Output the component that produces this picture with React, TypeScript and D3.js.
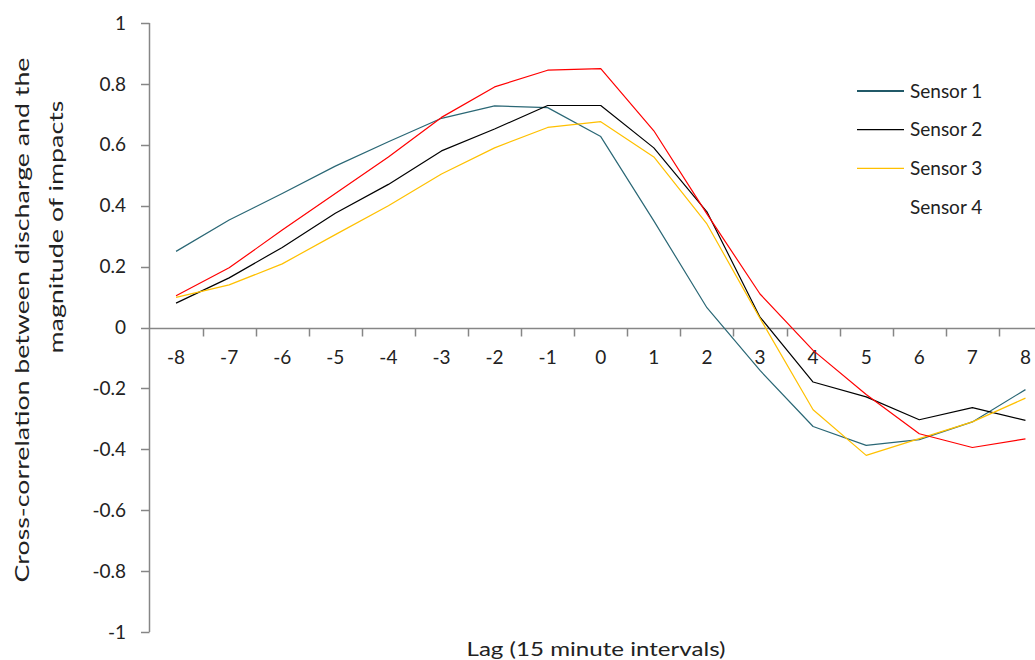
import React from "react";
import * as d3 from "d3";

const lags = [-8, -7, -6, -5, -4, -3, -2, -1, 0, 1, 2, 3, 4, 5, 6, 7, 8];
const sensor1 = [0.25, 0.353, 0.44, 0.53, 0.61, 0.687, 0.728, 0.722, 0.627, 0.35, 0.065, -0.141, -0.325, -0.387, -0.368, -0.31, -0.204];
const sensor2 = [0.08, 0.163, 0.263, 0.375, 0.47, 0.58, 0.652, 0.729, 0.729, 0.59, 0.38, 0.034, -0.179, -0.228, -0.303, -0.263, -0.305];
const sensor3 = [0.099, 0.14, 0.209, 0.305, 0.4, 0.504, 0.59, 0.657, 0.676, 0.56, 0.34, 0.03, -0.27, -0.42, -0.365, -0.31, -0.232];
const sensor4 = [0.104, 0.196, 0.32, 0.44, 0.56, 0.69, 0.79, 0.845, 0.85, 0.646, 0.373, 0.11, -0.075, -0.22, -0.349, -0.394, -0.366];
const seriesNames = ["Sensor 1", "Sensor 2", "Sensor 3", "Sensor 4"];
const seriesValues = [sensor1, sensor2, sensor3, sensor4];
const seriesColors = ["#2A6775", "#000000", "#FFC000", "#FF0000"];
const legendLineColors = ["#215968", "#000000", "#FFC000", "none"];
const yTicks = [1, 0.8, 0.6, 0.4, 0.2, 0, -0.2, -0.4, -0.6, -0.8, -1];
const yTickLabels = ["1", "0.8", "0.6", "0.4", "0.2", "0", "-0.2", "-0.4", "-0.6", "-0.8", "-1"];
const xTitle = "Lag (15 minute intervals)";
const yTitle1 = "Cross-correlation between discharge and the";
const yTitle2 = "magnitude of impacts";

const FONT = "Lato, 'Open Sans', sans-serif";

export default function App() {
  const W = 1035;
  const H = 660;
  const x = d3.scaleBand<number>().domain(lags).range([149.5, 1052]).paddingInner(0).paddingOuter(0);
  const cx = (v: number) => (x(v) as number) + x.bandwidth() / 2;
  const y = d3.scaleLinear().domain([-1, 1]).range([632, 23]);
  const line = d3
    .line<number>()
    .x((_, i) => cx(lags[i]))
    .y((d) => y(d));
  const axisColor = "#868686";
  const y0 = Math.round(y(0)) + 0.5;
  const bounds = lags.map((l) => (x(l) as number) + x.bandwidth());

  return (
    <svg width={W} height={H} style={{ position: "absolute", left: 0, top: 0, background: "#fff" }} fontFamily={FONT}>
      <rect x={0} y={0} width={W} height={H} fill="#fff" />
      {/* y axis */}
      <line x1={149.5} x2={149.5} y1={y(1)} y2={y(-1)} stroke={axisColor} strokeWidth={1.5} />
      {yTicks.map((t, i) => (
        <g key={"yt" + i}>
          <line x1={141} x2={149.5} y1={Math.round(y(t)) + 0.5} y2={Math.round(y(t)) + 0.5} stroke={axisColor} strokeWidth={1.5} />
          <text x={126} y={y(t)} dy="0.35em" textAnchor="end" fontSize={19} fill="#222">
            {yTickLabels[i]}
          </text>
        </g>
      ))}
      {/* x axis */}
      <line x1={149.5} x2={W} y1={y0} y2={y0} stroke={axisColor} strokeWidth={1.5} />
      {bounds.map((b, i) => (
        <line key={"xt" + i} x1={Math.round(b) + 0.5} x2={Math.round(b) + 0.5} y1={y0} y2={y0 + 8} stroke={axisColor} strokeWidth={1.5} />
      ))}
      {lags.map((l, i) => (
        <text key={"xl" + i} x={cx(l)} y={364} textAnchor="middle" fontSize={19} fill="#222">
          {String(l)}
        </text>
      ))}
      {/* series */}
      {seriesValues.map((vals, i) => (
        <path key={"s" + i} d={line(vals) || ""} fill="none" stroke={seriesColors[i]} strokeWidth={1.2} strokeLinejoin="round" />
      ))}
      {/* legend */}
      {seriesNames.map((n, i) => {
        const ly = 91 + i * 38.7;
        return (
          <g key={"lg" + i}>
            {legendLineColors[i] !== "none" && (
              <line x1={857} x2={904} y1={ly} y2={ly} stroke={legendLineColors[i]} strokeWidth={i === 0 ? 2 : 1.3} />
            )}
            <text x={910} y={ly} dy="0.35em" fontSize={19} fill="#222">
              {n}
            </text>
          </g>
        );
      })}
      {/* axis titles */}
      <text x={596} y={656} textAnchor="middle" fontSize={19.5} fill="#222" textLength={259} lengthAdjust="spacingAndGlyphs">
        {xTitle}
      </text>
      <text transform="translate(29,320) rotate(-90)" textAnchor="middle" fontSize={20} fill="#222" textLength={525} lengthAdjust="spacingAndGlyphs">
        {yTitle1}
      </text>
      <text transform="translate(63,227) rotate(-90)" textAnchor="middle" fontSize={20} fill="#222" textLength={253} lengthAdjust="spacingAndGlyphs">
        {yTitle2}
      </text>
    </svg>
  );
}
